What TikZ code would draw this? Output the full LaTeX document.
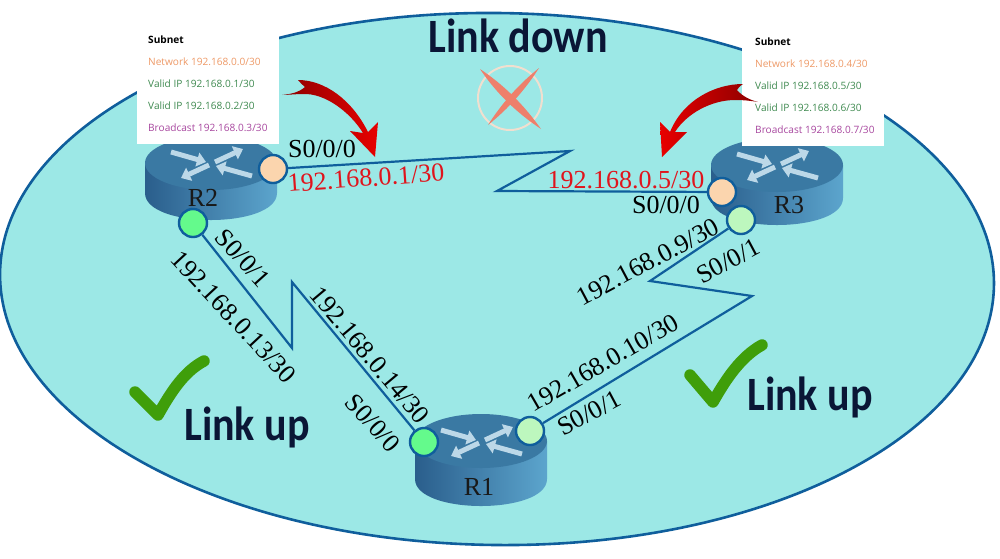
\documentclass[tikz,border=0pt]{standalone}
\usepackage{fontspec}
\setmainfont{Liberation Serif}
\newfontfamily\boxfont{Open Sans}
\newfontfamily\headfont{Carlito}
\usetikzlibrary{arrows.meta}
\definecolor{sea}{HTML}{9CE8E6}
\definecolor{rim}{HTML}{0F5E9C}
\definecolor{rtop}{HTML}{3A79A3}
\definecolor{rdark}{HTML}{2A5E8C}
\definecolor{rmid}{HTML}{3F7DA8}
\definecolor{rlight}{HTML}{5CA5CD}
\definecolor{rarrow}{HTML}{BCD8E8}
\definecolor{peach}{HTML}{FBD5AE}
\definecolor{greenA}{HTML}{64FA8C}
\definecolor{greenB}{HTML}{BDF7BE}
\definecolor{ipred}{HTML}{E0141C}
\definecolor{navy}{HTML}{0A1636}
\definecolor{tick}{HTML}{3F9E0A}
\definecolor{xred}{HTML}{EE7F6B}
\definecolor{xring}{HTML}{F1DFCF}
\definecolor{netc}{HTML}{EE9966}
\definecolor{validc}{HTML}{3F8A50}
\definecolor{bcastc}{HTML}{A8479F}
\definecolor{arrowdark}{HTML}{8B0000}
\definecolor{arrowbright}{HTML}{E80000}
\tikzset{
  port/.style={circle,draw=rim,line width=2.4pt,minimum size=28pt,inner sep=0pt},
  linkline/.style={draw=rim,line width=2.2pt,line join=miter},
  lab/.style={font=\fontsize{26}{30}\selectfont,text=black,inner sep=0pt},
  iplab/.style={font=\fontsize{26}{30}\selectfont,text=ipred,inner sep=0pt},
  routerlab/.style={font=\fontsize{26}{30}\selectfont,text=black!90,inner sep=0pt},
  boxpanel/.style={fill=white,draw=none,minimum width=142pt,minimum height=124pt,inner sep=0pt},
  boxtext/.style={font=\boxfont\fontsize{10.1}{12}\selectfont,anchor=west,inner sep=0pt},
  boxhead/.style={boxtext,text=black,font=\boxfont\bfseries\fontsize{10.1}{12}\selectfont},
  headtext/.style={font=\headfont\bfseries\fontsize{42}{46}\selectfont,text=navy,anchor=base,inner sep=0pt,yscale=1.14},
  rarrowline/.style={draw=rarrow,line width=5pt,-{Triangle[length=9pt,width=14pt]}}
}
% cx, y of top face, y of bottom face
\newcommand{\routerbody}[3]{%
  \shade[left color=rdark,middle color=rmid,right color=rlight]
    (#1-66,#2) -- (#1-66,#3) .. controls (#1-66,#3+36) and (#1+66,#3+36) .. (#1+66,#3) -- (#1+66,#2) -- cycle;
  \fill[rtop] (#1,#2) ellipse [x radius=66pt,y radius=27pt];
  \draw[rarrowline] (#1-40,#2-11) -- (#1-5,#2-1);
  \draw[rarrowline] (#1+4,#2-1) -- (#1+32,#2-14);
  \draw[rarrowline] (#1-2,#2+2) -- (#1-30,#2+15);
  \draw[rarrowline] (#1+41,#2+13) -- (#1+5,#2+3);
}
\begin{document}
\begin{tikzpicture}[x=1pt,y=-1pt]
\useasboundingbox (0,0) rectangle (1000,558);
\fill[white] (0,0) rectangle (1000,558);
% sea
\draw[draw=rim,line width=2.6pt,fill=sea,rotate around={-0.7:(497,279)}] (497,279) ellipse [x radius=497pt,y radius=266pt];

% routers
\routerbody{211}{163}{193}
\routerbody{777}{165}{198}
\routerbody{481}{441}{479}

% panels
\node[boxpanel] (panelL) at (208,82) {};
\node[boxpanel] (panelR) at (812.5,84) {};

% ports
\node[port,fill=peach] (r2a) at (273,169) {};
\node[port,fill=greenA] (r2b) at (193,223) {};
\node[port,fill=peach] (r3a) at (722,192) {};
\node[port,fill=greenB] (r3b) at (741,220) {};
\node[port,fill=greenA] (r1a) at (424,442) {};
\node[port,fill=greenB] (r1b) at (530,431) {};

% zigzag corners
\coordinate (za) at (570,151);
\coordinate (zb) at (497,191);
\coordinate (zc) at (292,348);
\coordinate (zd) at (292,282);
\coordinate (ze) at (752,296);
\coordinate (zf) at (650,281);
\draw[linkline] (r2a) -- (za) -- (zb) -- (r3a);
\draw[linkline] (r2b) -- (zc) -- (zd) -- (r1a);
\draw[linkline] (r1b) -- (ze) -- (zf) -- (r3b);

% router names
\node[routerlab] (nr2) at (203,198) {R2};
\node[routerlab] (nr3) at (789,205) {R3};
\node[routerlab] (nr1) at (479,487) {R1};

% interface labels
\node[lab] (l1) at (322,149) {S0/0/0};
\node[iplab,rotate=4] (l2) at (366,178) {192.168.0.1/30};
\node[iplab] (l3) at (626,180) {192.168.0.5/30};
\node[lab] (l4) at (666,205) {S0/0/0};
\node[lab,rotate=-48] (l5) at (243,258) {S0/0/1};
\node[lab,rotate=-47] (l6) at (234,317) {192.168.0.13/30};
\node[lab,rotate=-50] (l7) at (370,355) {192.168.0.14/30};
\node[lab,rotate=-48] (l8) at (373,423) {S0/0/0};
\node[lab,rotate=28] (l9) at (648,262) {192.168.0.9/30};
\node[lab,rotate=28] (l10) at (728,261) {S0/0/1};
\node[lab,rotate=30] (l11) at (603,363) {192.168.0.10/30};
\node[lab,rotate=28] (l12) at (589,413) {S0/0/1};

% left panel text
\node[boxhead] (t1) at (148,40) {Subnet};
\node[boxtext,text=netc] (t2) at (148,62) {Network 192.168.0.0/30};
\node[boxtext,text=validc] (t3) at (148,84) {Valid IP 192.168.0.1/30};
\node[boxtext,text=validc] (t4) at (148,106) {Valid IP 192.168.0.2/30};
\node[boxtext,text=bcastc] (t5) at (148,128) {Broadcast 192.168.0.3/30};
% right panel text
\node[boxhead] (u1) at (755,42) {Subnet};
\node[boxtext,text=netc] (u2) at (755,64) {Network 192.168.0.4/30};
\node[boxtext,text=validc] (u3) at (755,86) {Valid IP 192.168.0.5/30};
\node[boxtext,text=validc] (u4) at (755,108) {Valid IP 192.168.0.6/30};
\node[boxtext,text=bcastc] (u5) at (755,130) {Broadcast 192.168.0.7/30};

% red curved arrows
\shade[left color=arrowdark,right color=arrowbright]
  (282,95) .. controls (290,94) and (298,93) .. (305,87) .. controls (303,85) and (300,83) .. (298,80)
  .. controls (325,80) and (352,100) .. (368,132) -- (378,122) -- (375,157) -- (350,131) -- (363,133)
  .. controls (350,112) and (325,93) .. (303,94) .. controls (295,94) and (288,95) .. (282,95) -- cycle;
\shade[right color=arrowdark,left color=arrowbright]
  (758,102) .. controls (750,100) and (742,96) .. (737,90) .. controls (738,88) and (740,86) .. (743,84)
  .. controls (715,84) and (683,100) .. (670,132) -- (660,122) -- (662,157) -- (687,132) -- (675,132)
  .. controls (687,113) and (712,100) .. (735,100) .. controls (745,100) and (752,101) .. (758,102) -- cycle;

% X mark
\draw[xring,line width=2pt] (510,98) circle [radius=32pt];
\fill[xred] (480,69) .. controls (504,85) and (524,105) .. (541,129) .. controls (517,113) and (496,93) .. (480,69) -- cycle;
\fill[xred] (539,68) .. controls (525,90) and (508,109) .. (488,125) .. controls (502,103) and (519,84) .. (539,68) -- cycle;

% ticks
\draw[tick,line width=11.5pt,line cap=round,line join=round]
  (135,392) -- (158,415) .. controls (172,390) and (185,371) .. (204,361);
\draw[tick,line width=11.5pt,line cap=round,line join=round]
  (690,375) -- (713,402) .. controls (727,377) and (742,356) .. (762,345);

% headings
\node[headtext] (h1) at (518,52) {Link down};
\node[headtext] (h2) at (247,440) {Link up};
\node[headtext] (h3) at (810,410) {Link up};
\end{tikzpicture}
\end{document}
